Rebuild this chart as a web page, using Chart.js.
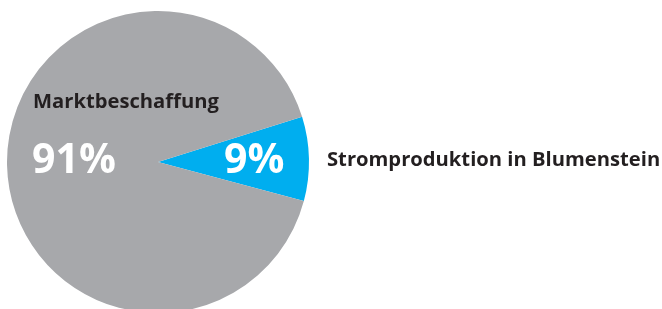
<!DOCTYPE html>
<html>
<head>
<meta charset="utf-8">
<script src="https://cdn.jsdelivr.net/npm/chart.js@4/dist/chart.umd.min.js"></script>
<style>
html,body{margin:0;padding:0;background:#fff;overflow:hidden;}
#wrap{position:absolute;left:0;top:0;width:662px;height:332px;}
</style>
</head>
<body>
<div id="wrap"><canvas id="c"></canvas></div>
<script>
const categories = ["Stromproduktion in Blumenstein", "Marktbeschaffung"];
const values = [9, 91];
const valueLabels = ["9%", "91%"];
const colors = ["#00aeef", "#a7a8ab"];

const labelPlugin = {
  id: 'labels',
  afterDraw(chart) {
    const ctx = chart.ctx;
    const arc = chart.getDatasetMeta(0).data[0];
    const cx = arc.x, cy = arc.y, r = arc.outerRadius;
    ctx.save();
    ctx.textBaseline = 'alphabetic';
    ctx.textAlign = 'left';
    const fam = '"Open Sans", sans-serif';
    // Marktbeschaffung
    ctx.fillStyle = '#231f20';
    ctx.font = 'bold 20.2px ' + fam;
    ctx.fillText(categories[1], cx - 125, cy - 54);
    // 91%
    ctx.fillStyle = '#ffffff';
    ctx.font = 'bold 41px ' + fam;
    ctx.fillText(valueLabels[1], cx - 126, cy + 11);
    // 9%
    ctx.fillText(valueLabels[0], cx + 66, cy + 11);
    // right label
    ctx.fillStyle = '#231f20';
    ctx.font = 'bold 20.2px ' + fam;
    ctx.fillText(categories[0], cx + r + 18, cy + 4);
    ctx.restore();
  }
};

new Chart(document.getElementById('c'), {
  type: 'pie',
  data: {
    labels: categories,
    datasets: [{
      data: values,
      backgroundColor: colors,
      borderWidth: 0
    }]
  },
  options: {
    responsive: true,
    maintainAspectRatio: false,
    animation: false,
    rotation: 72.6,
    layout: { padding: { left: 7, top: 11, right: 353, bottom: 19 } },
    plugins: { legend: { display: false }, tooltip: { enabled: false } }
  },
  plugins: [labelPlugin]
});
</script>
</body>
</html>
